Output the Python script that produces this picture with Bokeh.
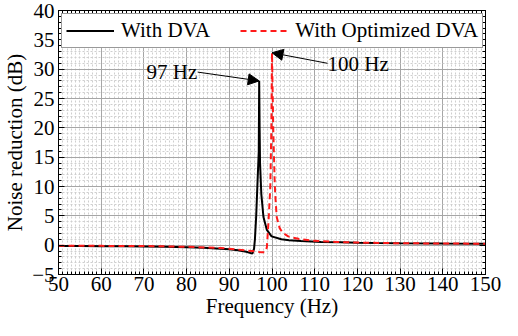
from bokeh.plotting import figure
from bokeh.models import (Range1d, LinearAxis, SingleIntervalTicker, Legend, LegendItem,
                          Label, Arrow, NormalHead, CustomJSTickFormatter, ColumnDataSource)
from bokeh.embed import file_html
from bokeh.resources import INLINE

# ---- data ----
freq_dva = [50, 55, 60, 65, 70, 75, 80, 84, 88, 90, 92, 93, 94, 95, 95.4, 95.8, 96.0, 96.3,
            96.5, 96.9, 97.0, 97.1, 97.2, 97.5, 98.0, 98.8, 99.9, 102.2, 104.0, 106.8, 111.5,
            116, 120, 125, 130, 140, 150]
nr_dva = [-0.15, -0.15, -0.17, -0.2, -0.22, -0.28, -0.35, -0.45, -0.6, -0.7, -0.88, -1.0,
          -1.12, -1.35, -1.45, -0.6, 1.0, 5.0, 8.7, 16.0, 28.0, 20.0, 14.0, 8.7, 4.8, 2.6,
          1.5, 1.0, 0.85, 0.7, 0.55, 0.48, 0.42, 0.37, 0.33, 0.28, 0.26]

freq_opt = [50, 60, 70, 75, 80, 85, 88, 90, 92, 94, 96, 97, 97.6, 98.3, 98.8, 99.2, 99.6,
            99.85, 100.0, 100.3, 100.6, 100.75, 101.1, 101.8, 102.5, 103.8, 105, 106.8, 109,
            111.5, 115, 120, 125, 130, 140, 150]
nr_opt = [-0.1, -0.12, -0.15, -0.2, -0.28, -0.4, -0.5, -0.6, -0.75, -0.9, -1.05, -1.15, -1.2,
          -1.2, -0.4, 4.3, 9.8, 20.0, 32.8, 19.6, 11.4, 8.7, 4.8, 2.9, 2.1, 1.5, 1.25, 1.0,
          0.8, 0.7, 0.55, 0.45, 0.38, 0.33, 0.28, 0.25]

series_names = ["With DVA", "With Optimized DVA"]
x_ticks_major = 10
y_ticks_major = 5
peak_labels = ["97 Hz", "100 Hz"]
label_pos = [(70.6, 29.6), (113.0, 30.8)]   # text anchor (left, middle) in data units
arrow_tail = [(82.6, 29.5), (113.0, 31.0)]

FONT = "Liberation Serif"

p = figure(width=502, height=320, output_backend="svg", toolbar_location=None,
           x_range=Range1d(50, 150), y_range=Range1d(-5, 40),
           min_border_left=50, min_border_right=17, min_border_top=10, min_border_bottom=10)
p.background_fill_color = "white"
p.border_fill_color = "white"
p.outline_line_color = "black"
p.outline_line_width = 1

src1 = ColumnDataSource(dict(x=freq_dva, y=nr_dva))
src2 = ColumnDataSource(dict(x=freq_opt, y=nr_opt))
r1 = p.line("x", "y", source=src1, line_color="black", line_width=2)
r2 = p.line("x", "y", source=src2, line_color="#ff1a1a", line_width=2, line_dash="6 4")

# axes
p.xaxis.ticker = SingleIntervalTicker(interval=x_ticks_major, num_minor_ticks=10)
p.yaxis.ticker = SingleIntervalTicker(interval=y_ticks_major, num_minor_ticks=5)
for ax in (p.xaxis[0], p.yaxis[0]):
    ax.major_label_text_font = FONT
    ax.major_label_text_font_size = "21px"
    ax.major_label_text_color = "black"
    ax.axis_label_text_font = FONT
    ax.axis_label_text_font_size = "21px"
    ax.axis_label_text_font_style = "normal"
    ax.axis_label_text_color = "black"
    ax.major_tick_in = 6
    ax.major_tick_out = 0
    ax.minor_tick_in = 3
    ax.minor_tick_out = 0
    ax.axis_line_color = "black"
    ax.major_tick_line_color = "black"
    ax.minor_tick_line_color = "black"
p.xaxis.axis_label = "Frequency (Hz)"
p.yaxis.axis_label = "Noise reduction (dB)"
p.xaxis.major_label_standoff = 2
p.xaxis.axis_label_standoff = 0
p.yaxis.major_label_standoff = 4
p.yaxis.axis_label_standoff = 2

blank = CustomJSTickFormatter(code="return ''")
top = LinearAxis(ticker=SingleIntervalTicker(interval=x_ticks_major, num_minor_ticks=10),
                 formatter=blank, major_tick_in=6, major_tick_out=0, minor_tick_in=3,
                 minor_tick_out=0, major_label_standoff=0, major_label_text_font_size="1px",
                 axis_line_color="black")
right = LinearAxis(ticker=SingleIntervalTicker(interval=y_ticks_major, num_minor_ticks=5),
                   formatter=blank, major_tick_in=6, major_tick_out=0, minor_tick_in=3,
                   minor_tick_out=0, major_label_standoff=0, major_label_text_font_size="1px",
                   axis_line_color="black")
p.add_layout(top, "above")
p.add_layout(right, "right")

# grids
for g in (p.xgrid[0], p.ygrid[0]):
    g.grid_line_color = "#a6a6a6"
    g.grid_line_width = 1
    g.minor_grid_line_color = "#cfcfcf"
    g.minor_grid_line_dash = "2 2"
    g.minor_grid_line_width = 1

# legend
legend = Legend(items=[LegendItem(label=series_names[0], renderers=[r1]),
                       LegendItem(label=series_names[1], renderers=[r2])],
                orientation="horizontal", location="top_left", margin=3,
                label_text_font=FONT, label_text_font_size="21px", label_text_color="black",
                glyph_width=48, glyph_height=19, label_height=19, label_standoff=7,
                spacing=30, padding=4, border_line_color="#333333", border_line_width=1,
                background_fill_color="white", background_fill_alpha=1)
p.add_layout(legend, "center")

# annotations pointing at the peaks
peaks = []
for xs, ys in ((freq_dva, nr_dva), (freq_opt, nr_opt)):
    i = ys.index(max(ys))
    peaks.append((xs[i], ys[i]))

for txt, (lx, ly), (tx, ty), (px, py) in zip(peak_labels, label_pos, arrow_tail, peaks):
    p.add_layout(Label(x=lx, y=ly, text=txt, text_font=FONT, text_font_size="21px",
                       text_color="black", text_baseline="middle", text_align="left"))
    p.add_layout(Arrow(x_start=tx, y_start=ty, x_end=px, y_end=py, line_color="black",
                       line_width=1,
                       end=NormalHead(size=11, fill_color="black", line_color="black")))

open("out.html", "w").write(file_html(p, INLINE))
